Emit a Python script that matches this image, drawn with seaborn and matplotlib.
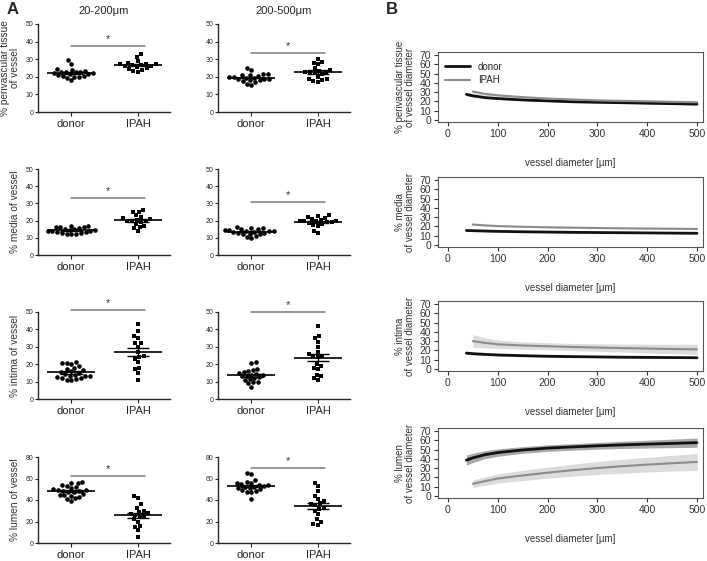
import numpy as np
import pandas as pd
import seaborn as sns
import matplotlib.pyplot as plt

# ----- Panel A: individual vessel measurements (% of vessel) -----
groups = ['donor', 'IPAH']

peri_small_donor = [29.5, 27.5, 24.5, 24, 23.5, 23, 23, 22.5, 22.5, 22, 22, 21.5, 21.5, 21, 20.5, 20.5, 20, 20, 19.5, 18]
peri_small_ipah = [33, 31.5, 29, 28, 27.5, 27, 27, 26.5, 26.5, 26, 26, 25.5, 25, 24.5, 24, 23.5, 23]
peri_large_donor = [25, 24, 21.5, 21.5, 21, 21, 20.5, 20, 20, 19.5, 19.5, 19, 19, 18.5, 18, 18, 17.5, 17, 16, 15.5]
peri_large_ipah = [30, 28.5, 28, 27, 25, 24, 23.5, 23, 23, 22.5, 22, 21.5, 20, 19, 18.5, 18, 17.5, 17]

media_small_donor = [17, 16.8, 16.5, 16.5, 16, 15.5, 15, 15, 14.5, 14.5, 14, 14, 14, 13.5, 13.5, 13, 13, 12.5, 12.5, 12]
media_small_ipah = [26, 25, 25, 23, 22, 21.5, 21, 20.5, 20, 20, 19.5, 19, 18, 17, 16.5, 15.5, 14]
media_large_donor = [16, 15.5, 15.5, 15, 15, 14.5, 14.5, 14, 14, 14, 13.5, 13.5, 13, 13, 12.5, 12.5, 12, 11, 10.5, 10]
media_large_ipah = [23, 22.5, 22, 21.5, 21, 20.5, 20, 20, 19.5, 19.5, 19, 19, 18.5, 18, 17.5, 17, 14, 13]

intima_small_donor = [21, 20.5, 20.5, 20, 19, 18, 17.5, 16.5, 16, 15.5, 15, 14.5, 14, 13.5, 13, 13, 12.5, 12, 12, 11.5, 11, 11]
intima_small_ipah = [43, 39, 36, 35, 32, 32, 30, 27, 25, 24, 23, 21, 18, 17, 15, 11]
intima_large_donor = [21, 20.5, 17, 16.5, 16, 15.5, 15, 14.5, 14, 14, 13.5, 13, 12.5, 12, 11.5, 11, 10, 9.5, 9, 7]
intima_large_ipah = [42, 36, 35, 33, 30, 27, 26, 25, 24.5, 24, 20, 19, 18, 17, 14, 13, 12, 11]

lumen_small_donor = [57, 56, 55.5, 54, 53, 52, 51, 50, 49.5, 49, 48.5, 48, 47.5, 47, 46, 45, 44.5, 44, 43, 42, 41, 39]
lumen_small_ipah = [44, 42, 36, 33, 30, 29, 28, 27, 26, 25, 24, 22, 20, 16, 15, 12, 6]
lumen_large_donor = [65, 64, 59, 57, 56, 56, 55, 54, 54, 53, 52.5, 52, 51.5, 51, 50, 49, 48, 47.5, 47, 41]
lumen_large_ipah = [56, 53, 48, 44, 41, 39, 37, 36, 35, 33, 32, 30, 27, 22, 20, 18, 17]

# ----- Panel B: fitted curves vs vessel diameter (mean and band half-width) -----
diam_donor = [37, 50, 75, 100, 150, 200, 250, 300, 350, 400, 450, 500]
diam_ipah = [50, 75, 100, 150, 200, 250, 300, 350, 400, 450, 500]

peri_fit_donor = [27.5, 26, 24, 23, 21.5, 20.5, 19.5, 19, 18.5, 18, 17.5, 17]
peri_band_donor = [1.3, 1.2, 1.0, 0.9, 0.8, 0.7, 0.7, 0.7, 0.7, 0.8, 0.8, 0.9]
peri_fit_ipah = [30.5, 28, 26.5, 24.5, 23, 22, 21, 20.5, 20, 19.5, 19]
peri_band_ipah = [1.6, 1.4, 1.2, 1.0, 0.9, 0.9, 0.9, 0.9, 1.0, 1.0, 1.1]

media_fit_donor = [15.5, 15.3, 14.9, 14.6, 14.1, 13.8, 13.5, 13.3, 13.1, 12.9, 12.7, 12.5]
media_band_donor = [0.8, 0.7, 0.6, 0.5, 0.5, 0.4, 0.4, 0.4, 0.4, 0.5, 0.5, 0.5]
media_fit_ipah = [22, 21, 20.3, 19.5, 19, 18.6, 18.2, 17.9, 17.6, 17.4, 17.2]
media_band_ipah = [1.0, 0.9, 0.8, 0.7, 0.6, 0.6, 0.6, 0.6, 0.7, 0.7, 0.8]

intima_fit_donor = [17, 16.4, 15.6, 15, 14.2, 13.6, 13.2, 12.9, 12.6, 12.4, 12.2, 12]
intima_band_donor = [1.4, 1.2, 1.0, 0.9, 0.8, 0.7, 0.7, 0.7, 0.7, 0.8, 0.8, 0.9]
intima_fit_ipah = [30, 28, 26.5, 25.2, 24.4, 23.6, 23, 22.4, 21.9, 21.4, 21]
intima_band_ipah = [7, 5.5, 4.5, 4, 3.8, 3.8, 4, 4.3, 4.7, 5, 5.5]

lumen_fit_donor = [38.5, 41, 44.5, 46.7, 49.5, 51.5, 52.8, 54, 55, 55.8, 56.6, 57.4]
lumen_band_donor = [5.5, 5, 4.3, 4, 3.6, 3.5, 3.5, 3.6, 3.9, 4.2, 4.6, 5]
lumen_fit_ipah = [13, 16, 18.7, 22, 25, 27.7, 30, 32, 33.7, 35.2, 36.6]
lumen_band_ipah = [4, 4.5, 5, 5.5, 6, 6.5, 7, 7.5, 8, 8.5, 9]

sns.set_style('ticks')
plt.rcParams['font.family'] = ['Liberation Sans', 'DejaVu Sans']

W, H = 707, 561
fig = plt.figure(figsize=(W / 100, H / 100), dpi=100)


def add_box(l, t, r, b):
    return fig.add_axes([l / W, 1 - b / H, (r - l) / W, (b - t) / H])


def dot_panel(ax, donor, ipah, ymax, sig_y):
    df = pd.DataFrame({'group': ['donor'] * len(donor) + ['IPAH'] * len(ipah),
                       'value': donor + ipah})
    sns.swarmplot(data=df[df.group == 'donor'], x='group', y='value', order=groups,
                  marker='o', color='black', size=3.3, linewidth=0, ax=ax)
    sns.swarmplot(data=df[df.group == 'IPAH'], x='group', y='value', order=groups,
                  marker='s', color='black', size=3.3, linewidth=0, ax=ax)
    for i, vals in enumerate([donor, ipah]):
        m = np.mean(vals)
        se = np.std(vals, ddof=1) / np.sqrt(len(vals))
        ax.hlines(m, i - 0.36, i + 0.36, color='black', lw=1.2, zorder=5)
        ax.hlines([m - se, m + se], i - 0.17, i + 0.17, color='black', lw=1, zorder=5)
        ax.vlines(i, m - se, m + se, color='black', lw=1, zorder=5)
    # significance bar
    ax.plot([0, 1.1], [sig_y, sig_y], color='#7a7a7a', lw=1.1, clip_on=False)
    ax.annotate('*', (0.55, sig_y), xytext=(0, 1.5), textcoords='offset points',
                ha='center', va='bottom', fontsize=8, color='#333333', annotation_clip=False)
    ax.set_xlim(-0.5, 1.48)
    ax.set_ylim(0, ymax)
    ax.set_yticks(np.arange(0, ymax + 1, 10 if ymax == 50 else 20))
    sns.despine(ax=ax)
    ax.set_xlabel('')
    ax.set_ylabel('')
    ax.tick_params(axis='y', labelsize=5, length=2.5, width=0.8, pad=1)
    ax.tick_params(axis='x', labelsize=8, length=3, width=0.8, pad=2)
    for s in ['left', 'bottom']:
        ax.spines[s].set_linewidth(1)


def curve_panel(ax, fit_d, band_d, fit_i, band_i, ylabel, legend=False):
    lo_d = np.array(fit_d) - np.array(band_d)
    hi_d = np.array(fit_d) + np.array(band_d)
    lo_i = np.array(fit_i) - np.array(band_i)
    hi_i = np.array(fit_i) + np.array(band_i)
    ax.fill_between(diam_ipah, lo_i, hi_i, color='#dcdcdc', lw=0)
    ax.fill_between(diam_donor, lo_d, hi_d, color='#a8a8a8', lw=0)
    sns.lineplot(x=diam_donor, y=fit_d, color='#111111', lw=2, label='donor', ax=ax)
    sns.lineplot(x=diam_ipah, y=fit_i, color='#8c8c8c', lw=1.5, label='IPAH', ax=ax)
    ax.set_xlim(-20, 512)
    ax.set_ylim(-2.3, 73.2)
    ax.set_xticks(np.arange(0, 501, 100))
    ax.set_yticks(np.arange(0, 71, 10))
    ax.set_xlabel('vessel diameter [\u03bcm]', fontsize=7, color='#333333', labelpad=14)
    ax.set_ylabel(ylabel, fontsize=7, color='#333333', labelpad=3, linespacing=1.0)
    ax.tick_params(labelsize=7.5, length=3, width=0.8, colors='#333333', pad=2)
    for s in ax.spines.values():
        s.set_color('#555555')
        s.set_linewidth(0.8)
    if legend:
        ax.legend(loc='upper left', frameon=False, fontsize=7, handlelength=2.6,
                  labelspacing=0.4, borderaxespad=0.3, bbox_to_anchor=(0.0, 0.96))
    else:
        ax.get_legend().remove()


# ----- Panel A layout -----
col_x = [(38, 170), (218, 350)]
row_y = [(24, 112), (169, 255), (312, 399), (457, 543)]

panel_a = [
    (peri_small_donor, peri_small_ipah, peri_large_donor, peri_large_ipah, 50, '% perivascular tissue\nof vessel'),
    (media_small_donor, media_small_ipah, media_large_donor, media_large_ipah, 50, '% media of vessel'),
    (intima_small_donor, intima_small_ipah, intima_large_donor, intima_large_ipah, 50, '% intima of vessel'),
    (lumen_small_donor, lumen_small_ipah, lumen_large_donor, lumen_large_ipah, 80, '% lumen of vessel'),
]
sig_heights = [(37.5, 33.3), (33.3, 31), (51, 50), (62.5, 70)]

for r, (sd, si, ld, li, ymax, ylab) in enumerate(panel_a):
    ax1 = add_box(col_x[0][0], row_y[r][0], col_x[0][1], row_y[r][1])
    dot_panel(ax1, sd, si, ymax, sig_heights[r][0])
    ax1.set_ylabel(ylab, fontsize=7.3, color='#333333', labelpad=4, linespacing=1.0)
    ax2 = add_box(col_x[1][0], row_y[r][0], col_x[1][1], row_y[r][1])
    dot_panel(ax2, ld, li, ymax, sig_heights[r][1])
    if r == 0:
        ax1.set_title('20-200\u03bcm', fontsize=8, pad=7)
        ax2.set_title('200-500\u03bcm', fontsize=8, pad=7)

# ----- Panel B layout -----
b_rows = [(52, 122), (177, 247), (301, 371), (428, 498)]
panel_b = [
    (peri_fit_donor, peri_band_donor, peri_fit_ipah, peri_band_ipah, '% perivascular tissue\nof vessel diameter'),
    (media_fit_donor, media_band_donor, media_fit_ipah, media_band_ipah, '% media\nof vessel diameter'),
    (intima_fit_donor, intima_band_donor, intima_fit_ipah, intima_band_ipah, '% intima\nof vessel diameter'),
    (lumen_fit_donor, lumen_band_donor, lumen_fit_ipah, lumen_band_ipah, '% lumen\nof vessel diameter'),
]
for r, (fd, bd, fi, bi, ylab) in enumerate(panel_b):
    axb = add_box(438, b_rows[r][0], 703, b_rows[r][1])
    curve_panel(axb, fd, bd, fi, bi, ylab, legend=(r == 0))

fig.text(7 / W, 1 - 9 / H, 'A', fontsize=12, fontweight='bold', va='center', ha='left')
fig.text(386 / W, 1 - 9 / H, 'B', fontsize=12, fontweight='bold', va='center', ha='left')

fig.savefig('out.png', dpi=100)
